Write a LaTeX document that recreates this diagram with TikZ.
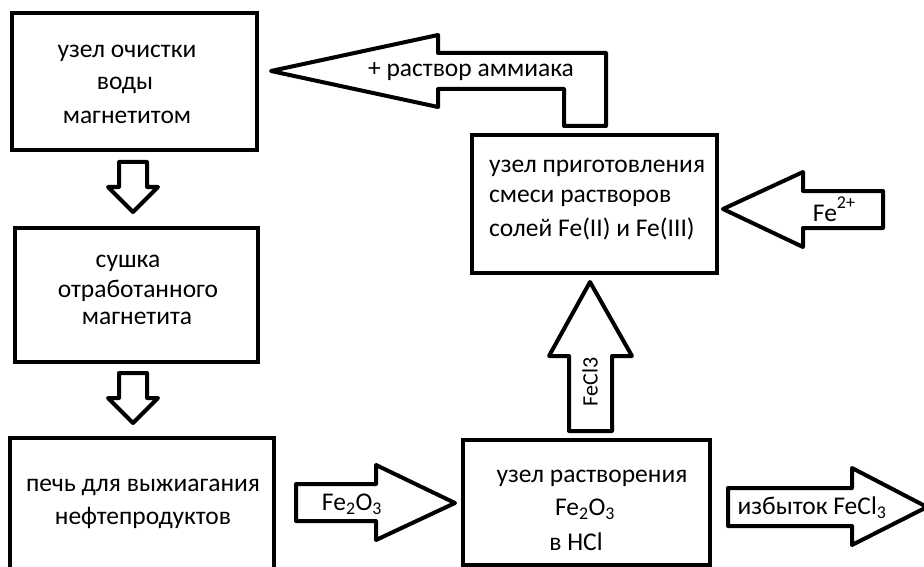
\documentclass[tikz,border=0pt]{standalone}
\usepackage{fontspec}
\setmainfont{Carlito}
\newcommand{\supx}[1]{\raisebox{0.5em}{\fontsize{18}{18}\selectfont #1}}
\begin{document}
\begin{tikzpicture}[x=1pt,y=-1pt,
  box/.style={draw, line width=4pt, inner sep=0pt},
  blockarrow/.style={draw, line width=4pt, line join=round, fill=white},
  lbl/.style={font=\fontsize{25.5}{30}\selectfont, inner sep=0pt, align=center, text=black},
  lblb/.style={lbl, font=\fontsize{25.5}{30}\selectfont}]
\useasboundingbox (0,0) rectangle (924,567);
\fill[white] (0,0) rectangle (924,567);

% boxes
\node[box, minimum width=245pt, minimum height=137pt] (b1) at (134.5,81.5) {};
\node[box, minimum width=243pt, minimum height=134pt] (b2) at (136.5,295) {};
\node[box, minimum width=264pt, minimum height=142pt] (b3) at (142,509) {};
\node[box, minimum width=245pt, minimum height=138pt] (b4) at (594.5,204) {};
\node[box, minimum width=247pt, minimum height=125pt] (b5) at (586.5,502.5) {};

% box texts
\node[lbl] (t1a) at (127,53) {узел очистки};
\node[lbl] (t1b) at (125,85) {воды};
\node[lbl] (t1c) at (127,117) {магнетитом};

\node[lbl] (t2a) at (128,263) {сушка};
\node[lbl] (t2b) at (138,291) {отработанного};
\node[lbl] (t2c) at (137,318) {магнетита};

\node[lbl] (t3a) at (143,487) {печь для выжиагания};
\node[lbl] (t3b) at (143,518) {нефтепродуктов};

\node[lblb, anchor=west] (t4a) at (489,168) {узел приготовления};
\node[lblb, anchor=west] (t4b) at (489,198) {смеси растворов};
\node[lblb, anchor=west] (t4c) at (489,229) {солей Fe(II) и Fe(III)};

\node[lbl] (t5a) at (592,478) {узел растворения};
\node[lbl] (t5b) at (585,509) {Fe\textsubscript{2}O\textsubscript{3}};
\node[lbl] (t5c) at (576,542) {в HCl};

% block arrows
\draw[blockarrow] (271,71) -- (438,35) -- (438,53) -- (606,53) -- (606,126)
  -- (564,126) -- (564,89) -- (438,89) -- (438,107) -- cycle;
\node[lbl] (a1) at (471,72) {+ раствор аммиака};

\draw[blockarrow] (723,209) -- (803,172) -- (803,191) -- (883,191) -- (883,228)
  -- (803,228) -- (803,247) -- cycle;
\node[lbl] (a2) at (834,209) {Fe\supx{2+}};

\draw[blockarrow] (119,162) -- (147,162) -- (147,187) -- (158,187) -- (133,212)
  -- (108,187) -- (119,187) -- cycle;
\draw[blockarrow] (119,373) -- (147,373) -- (147,398) -- (158,398) -- (133,423)
  -- (108,398) -- (119,398) -- cycle;

\draw[blockarrow] (569,431) -- (569,356) -- (549,356) -- (590,282) -- (632,356)
  -- (612,356) -- (612,431) -- cycle;
\node[lbl, font=\fontsize{22}{26}\selectfont, rotate=90] (a3) at (590,382) {FeCl3};

\draw[blockarrow] (296,484) -- (376,484) -- (376,465) -- (455,503) -- (376,540)
  -- (376,521) -- (296,521) -- cycle;
\node[lbl] (a4) at (352,504) {Fe\textsubscript{2}O\textsubscript{3}};

\draw[blockarrow] (728,488) -- (852,488) -- (852,468) -- (927,507) -- (852,545)
  -- (852,526) -- (728,526) -- cycle;
\node[lbl] (a5) at (812,508) {избыток FeCl\textsubscript{3}};
\end{tikzpicture}
\end{document}
